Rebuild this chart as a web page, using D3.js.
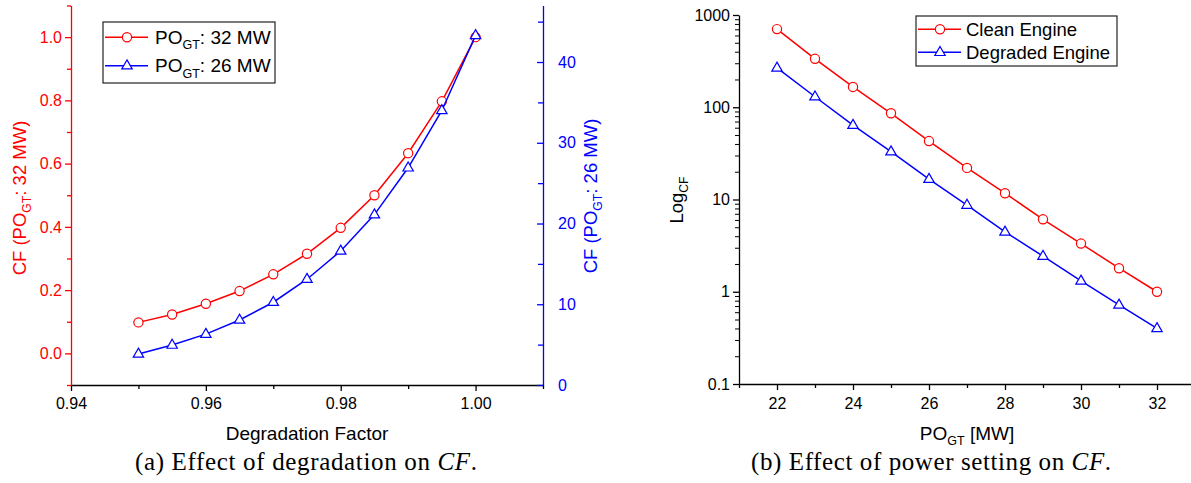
<!DOCTYPE html>
<html>
<head>
<meta charset="utf-8">
<script src="https://cdn.jsdelivr.net/npm/d3@7"></script>
<style>
  html, body { margin: 0; padding: 0; background: #fff; }
  svg { display: block; }
</style>
</head>
<body>
<svg id="chart" width="1191" height="483"></svg>
<script>
// ---------- DATA ----------
const degradation = [0.95, 0.955, 0.96, 0.965, 0.97, 0.975, 0.98, 0.985, 0.99, 0.995, 1.00];
const cf32 = [0.098, 0.123, 0.157, 0.197, 0.25, 0.315, 0.397, 0.5, 0.633, 0.797, 1.0];
const cf26 = [3.85, 4.95, 6.3, 8.05, 10.25, 13.1, 16.6, 21.1, 26.9, 34.0, 43.3];

const power = [22, 23, 24, 25, 26, 27, 28, 29, 30, 31, 32];
const cleanCF = [703, 335, 166, 86, 43, 22, 11.7, 6.1, 3.33, 1.8, 1.0];
const degradedCF = [267, 130, 64, 33, 16.6, 8.7, 4.45, 2.43, 1.31, 0.72, 0.40];

const leftXTicks = [0.94, 0.96, 0.98, 1.00];
const leftXMinor = [0.95, 0.97, 0.99, 1.01];
const leftYTicks = [0.0, 0.2, 0.4, 0.6, 0.8, 1.0];
const leftYMinor = [-0.1, 0.1, 0.3, 0.5, 0.7, 0.9, 1.1];
const rightYTicks = [0, 10, 20, 30, 40];
const rightYMinor = [5, 15, 25, 35, 45];
const powerTicks = [22, 24, 26, 28, 30, 32];
const powerMinor = [21, 23, 25, 27, 29, 31, 33];
const logTicks = [0.1, 1, 10, 100, 1000];
const logTickLabels = ["0.1", "1", "10", "100", "1000"];

const RED = "#ff0000", BLUE = "#0000ff";
const SANS = "'Liberation Sans', Arial, sans-serif";
const SERIF = "'Liberation Serif', 'Times New Roman', serif";
const svg = d3.select("#chart").style("font-family", SANS);

function richText(sel, parts, size) {
  sel.style("font-family", SANS);
  parts.forEach(p => {
    if (p.sub) {
      sel.append("tspan").attr("font-size", size * 0.66).attr("dy", size * 0.28).text(p.t);
    } else if (p.after) {
      sel.append("tspan").attr("font-size", size).attr("dy", -size * 0.28).text(p.t);
    } else {
      sel.append("tspan").attr("font-size", size).text(p.t);
    }
  });
}
function styleAxis(g, color) {
  g.selectAll("path.domain").attr("stroke", color).attr("stroke-width", 1.3);
  g.selectAll(".tick line").attr("stroke", color).attr("stroke-width", 1.3);
  g.selectAll(".tick text").attr("fill", color).attr("font-size", 16).style("font-family", SANS);
}
const triPath = "M0,-5.8L5.2,3.2L-5.2,3.2Z";

// ================= LEFT CHART =================
const xL = d3.scaleLinear().domain([0.94, 1.01]).range([71, 543]);
const yL = d3.scaleLinear().domain([-0.1, 1.1]).range([385, 5.5]);
const yR = d3.scaleLinear().domain([0, 47]).range([385, 5.5]);

const gxL = svg.append("g").attr("transform", "translate(0,385)")
  .call(d3.axisBottom(xL).tickValues(leftXTicks).tickFormat(d3.format(".2f")).tickSize(6).tickSizeOuter(0));
styleAxis(gxL, "#000");
gxL.selectAll(".tick text").attr("dy", "0.95em");
svg.append("g").attr("transform", "translate(0,385)")
  .call(d3.axisBottom(xL).tickValues(leftXMinor).tickFormat("").tickSize(4).tickSizeOuter(0))
  .call(g => { g.select(".domain").remove(); g.selectAll("line").attr("stroke", "#000").attr("stroke-width", 1.3); });

const gyL = svg.append("g").attr("transform", "translate(71,0)")
  .call(d3.axisLeft(yL).tickValues(leftYTicks).tickFormat(d3.format(".1f")).tickSize(6).tickSizeOuter(0));
styleAxis(gyL, RED);
svg.append("g").attr("transform", "translate(71,0)")
  .call(d3.axisLeft(yL).tickValues(leftYMinor).tickFormat("").tickSize(4).tickSizeOuter(0))
  .call(g => { g.select(".domain").remove(); g.selectAll("line").attr("stroke", RED).attr("stroke-width", 1.3); });

const gyR = svg.append("g").attr("transform", "translate(543,0)")
  .call(d3.axisRight(yR).tickValues(rightYTicks).tickSize(-6).tickSizeOuter(0).tickPadding(15));
styleAxis(gyR, BLUE);
svg.append("g").attr("transform", "translate(543,0)")
  .call(d3.axisRight(yR).tickValues(rightYMinor).tickFormat("").tickSize(-5).tickSizeOuter(0))
  .call(g => { g.select(".domain").remove(); g.selectAll("line").attr("stroke", BLUE).attr("stroke-width", 1.3); });

svg.append("text").attr("x", 307).attr("y", 440).attr("text-anchor", "middle")
  .attr("font-size", 19).attr("fill", "#000").style("font-family", SANS).text("Degradation Factor");
richText(svg.append("text").attr("transform", "translate(26,198) rotate(-90)").attr("text-anchor", "middle").attr("fill", RED),
  [{t: "CF (PO"}, {t: "GT", sub: true}, {t: ": 32 MW)", after: true}], 18.5);
richText(svg.append("text").attr("transform", "translate(597,196) rotate(-90)").attr("text-anchor", "middle").attr("fill", BLUE),
  [{t: "CF (PO"}, {t: "GT", sub: true}, {t: ": 26 MW)", after: true}], 18.5);

const lineL = d3.line().x(d => xL(d[0])).y(d => yL(d[1]));
const lineR = d3.line().x(d => xL(d[0])).y(d => yR(d[1]));
const redData = degradation.map((d, i) => [d, cf32[i]]);
const blueData = degradation.map((d, i) => [d, cf26[i]]);
svg.append("path").datum(redData).attr("d", lineL).attr("fill", "none").attr("stroke", RED).attr("stroke-width", 1.5);
svg.append("g").selectAll("circle").data(redData).join("circle")
  .attr("cx", d => xL(d[0])).attr("cy", d => yL(d[1])).attr("r", 4.6)
  .attr("fill", "#fff").attr("stroke", RED).attr("stroke-width", 1.2);
svg.append("path").datum(blueData).attr("d", lineR).attr("fill", "none").attr("stroke", BLUE).attr("stroke-width", 1.5);
svg.append("g").selectAll("path").data(blueData).join("path")
  .attr("transform", d => `translate(${xL(d[0])},${yR(d[1])})`).attr("d", triPath)
  .attr("fill", "#fff").attr("stroke", BLUE).attr("stroke-width", 1.2);

const legL = svg.append("g");
legL.append("rect").attr("x", 103).attr("y", 22).attr("width", 172).attr("height", 61)
  .attr("fill", "#fff").attr("stroke", "#222").attr("stroke-width", 1.2);
[[RED, "32", 37.3, "c"], [BLUE, "26", 65.7, "t"]].forEach(([c, v, y, m]) => {
  legL.append("line").attr("x1", 105).attr("x2", 148).attr("y1", y).attr("y2", y).attr("stroke", c).attr("stroke-width", 1.5);
  if (m === "c") legL.append("circle").attr("cx", 127).attr("cy", y).attr("r", 4.6).attr("fill", "#fff").attr("stroke", c).attr("stroke-width", 1.2);
  else legL.append("path").attr("transform", `translate(127,${y})`).attr("d", triPath).attr("fill", "#fff").attr("stroke", c).attr("stroke-width", 1.2);
  richText(legL.append("text").attr("x", 155).attr("y", y + 6.5).attr("fill", "#000"),
    [{t: "PO"}, {t: "GT", sub: true}, {t: ": " + v + " MW", after: true}], 19);
});

// ================= RIGHT CHART =================
const xP = d3.scaleLinear().domain([21, 33]).range([739, 1195]);
const yP = d3.scaleLog().domain([0.1, 1000]).range([384, 15]);

const gxP = svg.append("g").attr("transform", "translate(0,384)")
  .call(d3.axisBottom(xP).tickValues(powerTicks).tickFormat(d3.format("d")).tickSize(6).tickSizeOuter(0));
styleAxis(gxP, "#000");
gxP.selectAll(".tick text").attr("dy", "1.0em");
svg.append("g").attr("transform", "translate(0,384)")
  .call(d3.axisBottom(xP).tickValues(powerMinor).tickFormat("").tickSize(4).tickSizeOuter(0))
  .call(g => { g.select(".domain").remove(); g.selectAll("line").attr("stroke", "#000").attr("stroke-width", 1.3); });

const logMinor = [];
[0.1, 1, 10, 100].forEach(b => { for (let k = 2; k <= 9; k++) logMinor.push(b * k); });
const gyP = svg.append("g").attr("transform", "translate(739,0)")
  .call(d3.axisLeft(yP).tickValues(logTicks).tickFormat((d, i) => logTickLabels[i]).tickSize(6).tickSizeOuter(0));
styleAxis(gyP, "#000");
svg.append("g").attr("transform", "translate(739,0)")
  .call(d3.axisLeft(yP).tickValues(logMinor).tickFormat("").tickSize(4).tickSizeOuter(0))
  .call(g => { g.select(".domain").remove(); g.selectAll("line").attr("stroke", "#000").attr("stroke-width", 1); });

richText(svg.append("text").attr("x", 967).attr("y", 440).attr("text-anchor", "middle").attr("fill", "#000"),
  [{t: "PO"}, {t: "GT", sub: true}, {t: " [MW]", after: true}], 19);
richText(svg.append("text").attr("transform", "translate(683,200) rotate(-90)").attr("text-anchor", "middle").attr("fill", "#000"),
  [{t: "Log"}, {t: "CF", sub: true}], 18.5);

const lineP = d3.line().x(d => xP(d[0])).y(d => yP(d[1]));
const cleanData = power.map((p, i) => [p, cleanCF[i]]);
const degData = power.map((p, i) => [p, degradedCF[i]]);
svg.append("path").datum(cleanData).attr("d", lineP).attr("fill", "none").attr("stroke", RED).attr("stroke-width", 1.5);
svg.append("g").selectAll("circle").data(cleanData).join("circle")
  .attr("cx", d => xP(d[0])).attr("cy", d => yP(d[1])).attr("r", 4.6)
  .attr("fill", "#fff").attr("stroke", RED).attr("stroke-width", 1.2);
svg.append("path").datum(degData).attr("d", lineP).attr("fill", "none").attr("stroke", BLUE).attr("stroke-width", 1.5);
svg.append("g").selectAll("path").data(degData).join("path")
  .attr("transform", d => `translate(${xP(d[0])},${yP(d[1])})`).attr("d", triPath)
  .attr("fill", "#fff").attr("stroke", BLUE).attr("stroke-width", 1.2);

const legP = svg.append("g");
legP.append("rect").attr("x", 916).attr("y", 16).attr("width", 201).attr("height", 50)
  .attr("fill", "#fff").attr("stroke", "#222").attr("stroke-width", 1.2);
[[RED, "Clean Engine", 29.3, "c"], [BLUE, "Degraded Engine", 52.3, "t"]].forEach(([c, label, y, m]) => {
  legP.append("line").attr("x1", 918).attr("x2", 961).attr("y1", y).attr("y2", y).attr("stroke", c).attr("stroke-width", 1.5);
  if (m === "c") legP.append("circle").attr("cx", 940).attr("cy", y).attr("r", 4.6).attr("fill", "#fff").attr("stroke", c).attr("stroke-width", 1.2);
  else legP.append("path").attr("transform", `translate(940,${y})`).attr("d", triPath).attr("fill", "#fff").attr("stroke", c).attr("stroke-width", 1.2);
  legP.append("text").attr("x", 966).attr("y", y + 6.5).attr("font-size", 18.5).attr("fill", "#000")
    .style("font-family", SANS).text(label);
});

// ================= CAPTIONS =================
function caption(x, w, txt) {
  const t = svg.append("text").attr("x", x).attr("y", 470).attr("text-anchor", "middle")
    .attr("font-size", 25).attr("fill", "#000").style("font-family", SERIF)
    .attr("textLength", w).attr("lengthAdjust", "spacing");
  t.append("tspan").text(txt);
  t.append("tspan").attr("font-style", "italic").text("CF");
  t.append("tspan").text(".");
}
caption(306, 342, "(a) Effect of degradation on ");
caption(931, 360, "(b) Effect of power setting on ");
</script>
</body>
</html>
